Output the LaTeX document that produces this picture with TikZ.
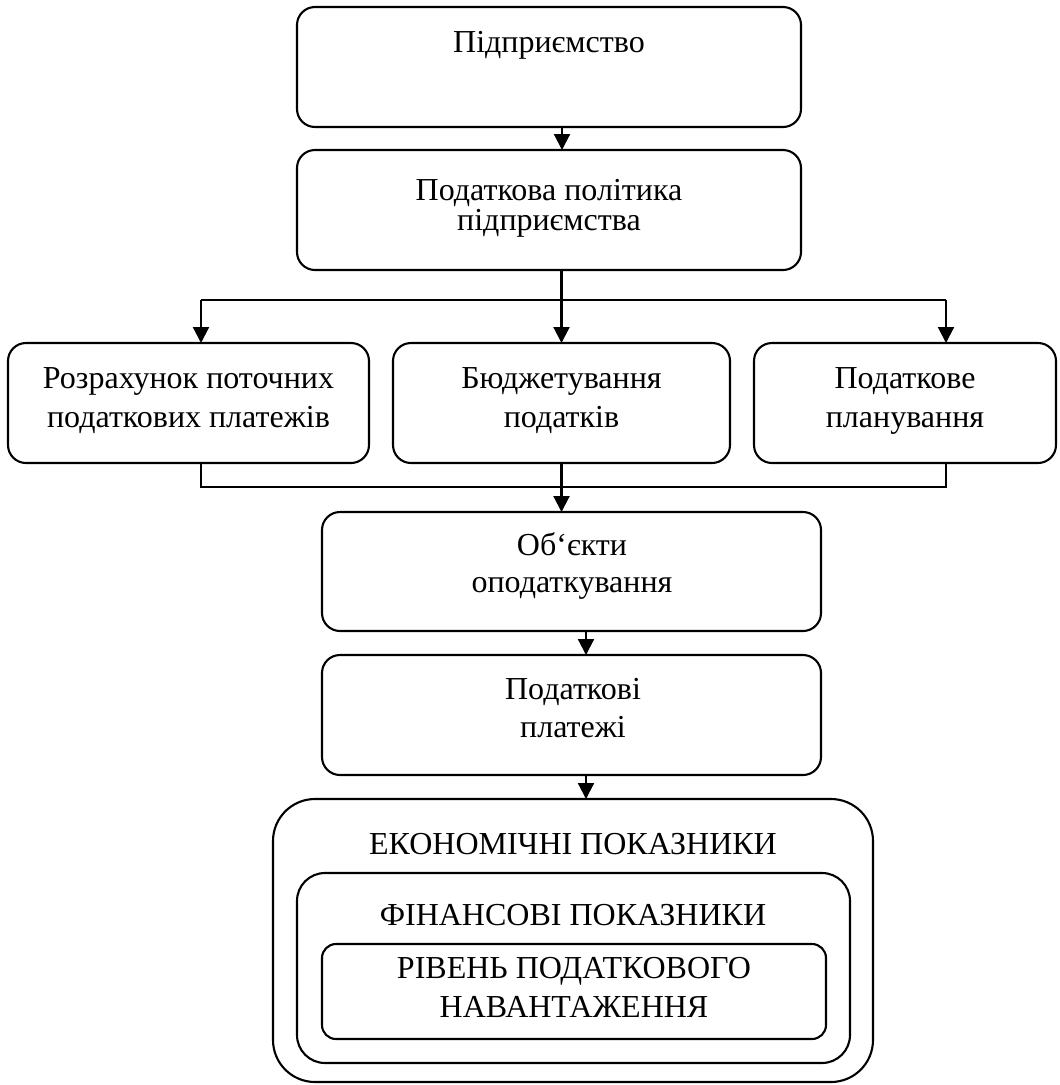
\documentclass[tikz,border=0pt]{standalone}
\usepackage{fontspec}
\setmainfont{Liberation Serif}
\usetikzlibrary{arrows.meta}
\begin{document}
\begin{tikzpicture}[x=1pt,y=-1pt,
  box/.style={draw,line width=2.1pt,rounded corners=18pt,inner sep=0pt,outer sep=0pt},
  txt/.style={anchor=base,inner sep=0pt,font=\fontsize{32}{38}\selectfont},
  conn/.style={line width=2.1pt},
  arr/.style={line width=2.1pt,-{Triangle[width=16pt,length=16pt]}}]
\useasboundingbox (0,0) rectangle (1060,1085);
% boxes
\node[box,minimum width=504pt,minimum height=120pt] (b1) at (549,67) {};
\node[box,minimum width=504pt,minimum height=120pt] (b2) at (549,210) {};
\node[box,minimum width=361pt,minimum height=120pt] (A) at (188.5,403) {};
\node[box,minimum width=337pt,minimum height=120pt] (B) at (561.5,403) {};
\node[box,minimum width=302pt,minimum height=120pt] (C) at (905,403) {};
\node[box,minimum width=499pt,minimum height=119pt] (b4) at (571.5,571.5) {};
\node[box,minimum width=499pt,minimum height=120pt] (b5) at (571.5,715) {};
\node[box,rounded corners=42pt,minimum width=600pt,minimum height=283pt] (big) at (573,940.5) {};
\node[box,rounded corners=28pt,minimum width=553pt,minimum height=190pt] (mid) at (573.5,968) {};
\node[box,rounded corners=14pt,minimum width=504pt,minimum height=95pt] (inner) at (574,991.5) {};
% texts
\node[txt] (t1) at (549,52) {Підприємство};
\node[txt] (t2a) at (549,200) {Податкова політика};
\node[txt] (t2b) at (549,230) {підприємства};
\node[txt] (tAa) at (188.5,388) {Розрахунок поточних};
\node[txt] (tAb) at (188.5,427) {податкових платежів};
\node[txt] (tBa) at (561.5,388) {Бюджетування};
\node[txt] (tBb) at (561.5,427) {податків};
\node[txt] (tCa) at (905,388) {Податкове};
\node[txt] (tCb) at (905,427) {планування};
\node[txt] (t4a) at (572,555) {Об‘єкти};
\node[txt] (t4b) at (572,592) {оподаткування};
\node[txt] (t5a) at (573,699) {Податкові};
\node[txt] (t5b) at (573,737) {платежі};
\node[txt] (tE) at (573,854) {ЕКОНОМІЧНІ ПОКАЗНИКИ};
\node[txt] (tF) at (573,925) {ФІНАНСОВІ ПОКАЗНИКИ};
\node[txt] (tRa) at (574,978) {РІВЕНЬ ПОДАТКОВОГО};
\node[txt] (tRb) at (574,1017) {НАВАНТАЖЕННЯ};
% connectors
\coordinate (c1) at (562,0);
\draw[arr] (b1.south -| c1) -- (b2.north -| c1);
\coordinate (sL) at (201,300);
\coordinate (sR) at (946,300);
\draw[conn] (sL) -- (sR);
\draw[arr] (sL) -- (sL |- A.north);
\draw[arr] (sR) -- (sR |- C.north);
\draw[arr] (b2.south -| B.north) -- (B.north);
\coordinate (jL) at (201,487);
\coordinate (jR) at (946,487);
\draw[conn] (jL |- A.south) -- (jL) -- (jR) -- (jR |- C.south);
\draw[arr] (B.south) -- (B.south |- b4.north);
\coordinate (c2) at (586,0);
\draw[arr] (b4.south -| c2) -- (b5.north -| c2);
\draw[arr] (b5.south -| c2) -- (big.north -| c2);
\end{tikzpicture}
\end{document}
